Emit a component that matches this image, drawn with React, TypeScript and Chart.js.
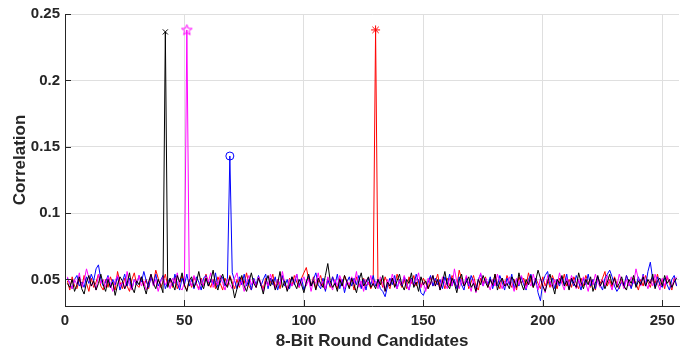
import React, { useEffect, useRef } from "react";
import { Chart, registerables } from "chart.js";

Chart.register(...registerables);

// Tick definitions
const xTickValues = [0, 50, 100, 150, 200, 250];
const yTickValues = [0.05, 0.1, 0.15, 0.2, 0.25];
const yTickLabels = ["0.05", "0.1", "0.15", "0.2", "0.25"];

// Correlation values for candidates 1..256
const blackSeries = [
  0.047, 0.044, 0.050, 0.041, 0.046, 0.052, 0.043, 0.039, 0.048, 0.053, 0.045, 0.049, 0.042, 0.047, 0.054, 0.046,
  0.041, 0.050, 0.044, 0.048, 0.038, 0.046, 0.052, 0.049, 0.043, 0.047, 0.055, 0.044, 0.040, 0.049, 0.046, 0.052,
  0.045, 0.039, 0.048, 0.054, 0.047, 0.043, 0.050, 0.046, 0.040, 0.2365, 0.044, 0.051, 0.047, 0.042, 0.053, 0.048,
  0.055, 0.046, 0.041, 0.049, 0.052, 0.044, 0.048, 0.056, 0.047, 0.043, 0.051, 0.045, 0.049, 0.057, 0.046, 0.042,
  0.050, 0.054, 0.047, 0.044, 0.052, 0.046, 0.036, 0.043, 0.049, 0.053, 0.045, 0.041, 0.048, 0.055, 0.047, 0.044,
  0.051, 0.046, 0.039, 0.048, 0.053, 0.045, 0.050, 0.042, 0.047, 0.056, 0.044, 0.049, 0.041, 0.046, 0.052, 0.047,
  0.043, 0.050, 0.046, 0.040, 0.048, 0.054, 0.045, 0.049, 0.042, 0.051, 0.047, 0.044, 0.053, 0.062, 0.049, 0.044,
  0.047, 0.041, 0.050, 0.045, 0.053, 0.048, 0.043, 0.051, 0.046, 0.040, 0.049, 0.055, 0.045, 0.048, 0.052, 0.044,
  0.047, 0.043, 0.050, 0.046, 0.053, 0.041, 0.048, 0.045, 0.051, 0.044, 0.049, 0.054, 0.046, 0.042, 0.050, 0.047,
  0.055, 0.044, 0.048, 0.041, 0.052, 0.046, 0.049, 0.043, 0.047, 0.053, 0.045, 0.050, 0.042, 0.048, 0.056, 0.046,
  0.043, 0.051, 0.047, 0.040, 0.049, 0.054, 0.045, 0.048, 0.052, 0.044, 0.047, 0.041, 0.050, 0.046, 0.053, 0.048,
  0.044, 0.050, 0.046, 0.054, 0.042, 0.048, 0.051, 0.045, 0.047, 0.043, 0.052, 0.049, 0.044, 0.055, 0.047, 0.042,
  0.050, 0.046, 0.053, 0.044, 0.049, 0.057, 0.051, 0.045, 0.041, 0.048, 0.054, 0.046, 0.039, 0.050, 0.047, 0.053,
  0.045, 0.049, 0.042, 0.051, 0.047, 0.044, 0.055, 0.048, 0.043, 0.050, 0.046, 0.052, 0.041, 0.047, 0.053, 0.045,
  0.049, 0.043, 0.048, 0.054, 0.046, 0.051, 0.044, 0.047, 0.052, 0.045, 0.042, 0.050, 0.047, 0.053, 0.044, 0.049,
  0.046, 0.052, 0.045, 0.050, 0.047, 0.054, 0.043, 0.049, 0.051, 0.045, 0.053, 0.047, 0.050, 0.044, 0.048, 0.051,
];

const magentaSeries = [
  0.052, 0.047, 0.043, 0.050, 0.046, 0.055, 0.044, 0.049, 0.058, 0.051, 0.045, 0.048, 0.042, 0.054, 0.047, 0.050,
  0.044, 0.052, 0.047, 0.041, 0.049, 0.053, 0.045, 0.048, 0.043, 0.056, 0.046, 0.042, 0.050, 0.047, 0.053, 0.045,
  0.049, 0.042, 0.047, 0.054, 0.045, 0.050, 0.041, 0.048, 0.052, 0.046, 0.049, 0.043, 0.051, 0.047, 0.055, 0.044,
  0.042, 0.048, 0.238, 0.051, 0.045, 0.053, 0.047, 0.042, 0.050, 0.045, 0.052, 0.048, 0.055, 0.044, 0.049, 0.046,
  0.053, 0.047, 0.042, 0.050, 0.046, 0.043, 0.051, 0.055, 0.045, 0.049, 0.041, 0.048, 0.053, 0.046, 0.050, 0.044,
  0.052, 0.047, 0.041, 0.049, 0.045, 0.054, 0.048, 0.043, 0.050, 0.046, 0.056, 0.047, 0.042, 0.050, 0.045, 0.049,
  0.054, 0.044, 0.048, 0.052, 0.045, 0.050, 0.041, 0.049, 0.047, 0.055, 0.045, 0.049, 0.043, 0.052, 0.047, 0.042,
  0.050, 0.045, 0.053, 0.048, 0.043, 0.049, 0.046, 0.052, 0.047, 0.056, 0.044, 0.049, 0.041, 0.050, 0.046, 0.053,
  0.045, 0.049, 0.043, 0.052, 0.047, 0.041, 0.050, 0.045, 0.054, 0.048, 0.043, 0.049, 0.046, 0.053, 0.047, 0.042,
  0.050, 0.045, 0.049, 0.055, 0.044, 0.048, 0.041, 0.051, 0.046, 0.053, 0.045, 0.049, 0.042, 0.052, 0.047, 0.043,
  0.051, 0.045, 0.058, 0.048, 0.043, 0.050, 0.045, 0.053, 0.047, 0.041, 0.050, 0.040, 0.049, 0.055, 0.045, 0.051,
  0.047, 0.042, 0.050, 0.045, 0.054, 0.048, 0.043, 0.049, 0.045, 0.052, 0.047, 0.041, 0.051, 0.046, 0.053, 0.048,
  0.043, 0.049, 0.045, 0.054, 0.047, 0.042, 0.051, 0.046, 0.040, 0.053, 0.048, 0.044, 0.050, 0.046, 0.055, 0.047,
  0.042, 0.051, 0.045, 0.053, 0.048, 0.043, 0.050, 0.045, 0.052, 0.047, 0.041, 0.050, 0.046, 0.054, 0.048, 0.044,
  0.050, 0.045, 0.053, 0.047, 0.042, 0.051, 0.045, 0.054, 0.048, 0.043, 0.050, 0.045, 0.052, 0.047, 0.058, 0.050,
  0.045, 0.053, 0.048, 0.043, 0.050, 0.045, 0.054, 0.047, 0.042, 0.051, 0.045, 0.053, 0.048, 0.044, 0.050, 0.052,
];

const blueSeries = [
  0.051, 0.047, 0.043, 0.050, 0.053, 0.045, 0.048, 0.044, 0.052, 0.047, 0.054, 0.049, 0.058, 0.061, 0.050, 0.045,
  0.048, 0.053, 0.044, 0.050, 0.046, 0.052, 0.042, 0.048, 0.054, 0.045, 0.051, 0.043, 0.050, 0.046, 0.053, 0.048,
  0.056, 0.049, 0.044, 0.052, 0.046, 0.054, 0.045, 0.049, 0.053, 0.043, 0.048, 0.051, 0.045, 0.054, 0.047, 0.042,
  0.051, 0.046, 0.054, 0.045, 0.050, 0.043, 0.052, 0.048, 0.042, 0.051, 0.053, 0.045, 0.050, 0.046, 0.055, 0.044,
  0.048, 0.052, 0.045, 0.051, 0.143, 0.055, 0.049, 0.043, 0.052, 0.046, 0.054, 0.045, 0.050, 0.042, 0.051, 0.046,
  0.053, 0.045, 0.050, 0.054, 0.043, 0.051, 0.046, 0.052, 0.042, 0.048, 0.053, 0.045, 0.050, 0.043, 0.052, 0.046,
  0.054, 0.045, 0.051, 0.042, 0.048, 0.053, 0.045, 0.050, 0.055, 0.046, 0.043, 0.051, 0.041, 0.050, 0.045, 0.052,
  0.046, 0.054, 0.043, 0.050, 0.040, 0.048, 0.052, 0.045, 0.051, 0.046, 0.053, 0.043, 0.050, 0.042, 0.051, 0.046,
  0.053, 0.045, 0.050, 0.043, 0.041, 0.037, 0.045, 0.051, 0.046, 0.053, 0.043, 0.050, 0.045, 0.052, 0.046, 0.042,
  0.051, 0.045, 0.054, 0.048, 0.040, 0.038, 0.043, 0.048, 0.053, 0.045, 0.051, 0.046, 0.050, 0.043, 0.052, 0.046,
  0.054, 0.045, 0.050, 0.043, 0.052, 0.046, 0.042, 0.051, 0.045, 0.053, 0.048, 0.043, 0.050, 0.054, 0.045, 0.051,
  0.046, 0.052, 0.043, 0.050, 0.045, 0.053, 0.048, 0.042, 0.051, 0.046, 0.054, 0.043, 0.050, 0.045, 0.052, 0.046,
  0.042, 0.050, 0.054, 0.045, 0.051, 0.040, 0.034, 0.048, 0.053, 0.056, 0.046, 0.051, 0.043, 0.050, 0.045, 0.052,
  0.046, 0.054, 0.043, 0.050, 0.045, 0.053, 0.048, 0.042, 0.051, 0.046, 0.054, 0.045, 0.050, 0.043, 0.052, 0.046,
  0.042, 0.051, 0.054, 0.057, 0.052, 0.045, 0.041, 0.044, 0.048, 0.045, 0.053, 0.048, 0.043, 0.050, 0.045, 0.052,
  0.046, 0.054, 0.045, 0.056, 0.063, 0.050, 0.044, 0.052, 0.046, 0.044, 0.051, 0.046, 0.042, 0.050, 0.053, 0.045,
];

const redSeries = [
  0.049, 0.042, 0.052, 0.045, 0.043, 0.050, 0.044, 0.053, 0.047, 0.041, 0.051, 0.044, 0.048, 0.054, 0.045, 0.042,
  0.050, 0.044, 0.052, 0.047, 0.042, 0.056, 0.048, 0.043, 0.051, 0.045, 0.041, 0.050, 0.055, 0.046, 0.044, 0.052,
  0.045, 0.050, 0.043, 0.053, 0.047, 0.057, 0.051, 0.044, 0.048, 0.054, 0.045, 0.050, 0.044, 0.052, 0.043, 0.047,
  0.053, 0.045, 0.042, 0.050, 0.044, 0.052, 0.047, 0.043, 0.051, 0.045, 0.054, 0.048, 0.044, 0.050, 0.043, 0.052,
  0.047, 0.042, 0.051, 0.045, 0.053, 0.048, 0.043, 0.050, 0.044, 0.052, 0.047, 0.055, 0.045, 0.042, 0.050, 0.044,
  0.052, 0.047, 0.043, 0.051, 0.045, 0.048, 0.054, 0.044, 0.050, 0.043, 0.052, 0.047, 0.042, 0.051, 0.045, 0.053,
  0.048, 0.044, 0.051, 0.055, 0.059, 0.050, 0.045, 0.052, 0.043, 0.048, 0.053, 0.045, 0.042, 0.050, 0.044, 0.052,
  0.047, 0.043, 0.051, 0.045, 0.053, 0.048, 0.044, 0.050, 0.042, 0.052, 0.047, 0.044, 0.051, 0.045, 0.048, 0.043,
  0.047, 0.238, 0.045, 0.050, 0.044, 0.052, 0.047, 0.043, 0.051, 0.045, 0.054, 0.048, 0.044, 0.050, 0.043, 0.052,
  0.047, 0.053, 0.045, 0.050, 0.044, 0.051, 0.047, 0.043, 0.052, 0.045, 0.048, 0.054, 0.044, 0.050, 0.043, 0.051,
  0.045, 0.053, 0.048, 0.044, 0.057, 0.050, 0.045, 0.052, 0.043, 0.048, 0.053, 0.045, 0.042, 0.051, 0.047, 0.052,
  0.044, 0.050, 0.045, 0.054, 0.047, 0.043, 0.051, 0.045, 0.053, 0.048, 0.044, 0.050, 0.042, 0.052, 0.047, 0.051,
  0.045, 0.055, 0.048, 0.044, 0.051, 0.047, 0.043, 0.052, 0.045, 0.050, 0.044, 0.053, 0.048, 0.043, 0.051, 0.047,
  0.054, 0.045, 0.050, 0.044, 0.052, 0.047, 0.043, 0.051, 0.045, 0.053, 0.048, 0.044, 0.050, 0.042, 0.052, 0.047,
  0.051, 0.056, 0.045, 0.050, 0.044, 0.052, 0.047, 0.043, 0.050, 0.045, 0.053, 0.048, 0.044, 0.051, 0.047, 0.042,
  0.050, 0.045, 0.053, 0.048, 0.044, 0.051, 0.047, 0.054, 0.045, 0.050, 0.043, 0.052, 0.047, 0.042, 0.051, 0.045,
];

// Peak candidate (1-based) for each series
const blackPeak = 42;
const magentaPeak = 51;
const bluePeak = 69;
const redPeak = 130;

const FONT = "'Liberation Sans', Arial, Helvetica, sans-serif";
const AXIS_COLOR = "#262626";
const GRID_COLOR = "#dfdfdf";

function toPoints(values: number[]) {
  return values.map((v, i) => ({ x: i + 1, y: v }));
}

function makePentagram(color: string) {
  const c = document.createElement("canvas");
  c.width = 13;
  c.height = 13;
  const g = c.getContext("2d")!;
  g.strokeStyle = color;
  g.lineWidth = 1;
  g.beginPath();
  const cx = 6.5, cy = 6.8, ro = 5.6, ri = 2.3;
  for (let k = 0; k < 10; k++) {
    const r = k % 2 === 0 ? ro : ri;
    const a = -Math.PI / 2 + (k * Math.PI) / 5;
    const px = cx + r * Math.cos(a);
    const py = cy + r * Math.sin(a);
    if (k === 0) g.moveTo(px, py);
    else g.lineTo(px, py);
  }
  g.closePath();
  g.stroke();
  return c;
}

const inwardTicks = {
  id: "inwardTicks",
  afterDatasetsDraw(chart: any) {
    const { ctx, chartArea, scales } = chart;
    ctx.save();
    ctx.strokeStyle = AXIS_COLOR;
    ctx.lineWidth = 1;
    ctx.beginPath();
    for (const v of xTickValues) {
      const x = Math.round(scales.x.getPixelForValue(v)) + 0.5;
      ctx.moveTo(x, chartArea.bottom);
      ctx.lineTo(x, chartArea.bottom - 6);
    }
    for (const v of yTickValues) {
      const y = Math.round(scales.y.getPixelForValue(v)) + 0.5;
      ctx.moveTo(chartArea.left, y);
      ctx.lineTo(chartArea.left + 6, y);
    }
    ctx.stroke();
    ctx.restore();
  },
};

export default function App() {
  const canvasRef = useRef<HTMLCanvasElement | null>(null);

  useEffect(() => {
    document.body.style.margin = "0";
    const canvas = canvasRef.current;
    if (!canvas) return;
    const star5 = makePentagram("#ff00ff");

    const peakOnly = (peak: number, r: number) => (ctx: any) =>
      ctx.dataIndex === peak - 1 ? r : 0;

    const chart = new Chart(canvas, {
      type: "line",
      data: {
        datasets: [
          {
            data: toPoints(blackSeries),
            borderColor: "#000000",
            borderWidth: 1,
            pointStyle: "crossRot",
            pointRadius: peakOnly(blackPeak, 3.6),
            pointBorderColor: "#000000",
            pointBorderWidth: 1,
            pointBackgroundColor: "rgba(0,0,0,0)",
          },
          {
            data: toPoints(magentaSeries),
            borderColor: "#ff00ff",
            borderWidth: 1,
            pointStyle: (ctx: any) => (ctx.dataIndex === magentaPeak - 1 ? star5 : "circle"),
            pointRadius: peakOnly(magentaPeak, 5),
            pointBorderColor: "#ff00ff",
            pointBorderWidth: 1,
            pointBackgroundColor: "rgba(0,0,0,0)",
          },
          {
            data: toPoints(blueSeries),
            borderColor: "#0000ff",
            borderWidth: 1,
            pointStyle: "circle",
            pointRadius: peakOnly(bluePeak, 4),
            pointBorderColor: "#0000ff",
            pointBorderWidth: 1,
            pointBackgroundColor: "rgba(0,0,0,0)",
          },
          {
            data: toPoints(redSeries),
            borderColor: "#ff0000",
            borderWidth: 1,
            pointStyle: "star",
            pointRadius: peakOnly(redPeak, 4.5),
            pointBorderColor: "#ff0000",
            pointBorderWidth: 1,
            pointBackgroundColor: "rgba(0,0,0,0)",
          },
        ],
      },
      options: {
        animation: false,
        responsive: false,
        events: [],
        layout: { padding: { top: 12, right: 12, left: 0, bottom: 0 } },
        elements: { line: { tension: 0 } },
        plugins: { legend: { display: false }, tooltip: { enabled: false } },
        scales: {
          x: {
            type: "linear",
            min: 0,
            max: 257,
            afterBuildTicks: (scale: any) => {
              scale.ticks = xTickValues.map((v) => ({ value: v }));
            },
            afterFit: (scale: any) => {
              scale.height = 48;
            },
            grid: { color: GRID_COLOR, drawTicks: false, lineWidth: 1 },
            border: { display: true, color: AXIS_COLOR, width: 1 },
            ticks: {
              color: AXIS_COLOR,
              padding: 6,
              maxRotation: 0,
              autoSkip: false,
              font: { family: FONT, size: 15, weight: "bold" },
              callback: (v: any) => String(v),
            },
            title: {
              display: true,
              text: "8-Bit Round Candidates",
              color: AXIS_COLOR,
              padding: { top: 0, bottom: 2 },
              font: { family: FONT, size: 17, weight: "bold" },
            },
          },
          y: {
            type: "linear",
            min: 0.03,
            max: 0.25,
            afterBuildTicks: (scale: any) => {
              scale.ticks = yTickValues.map((v) => ({ value: v }));
            },
            afterFit: (scale: any) => {
              scale.width = 65;
            },
            grid: { color: GRID_COLOR, drawTicks: false, lineWidth: 1 },
            border: { display: true, color: AXIS_COLOR, width: 1 },
            ticks: {
              color: AXIS_COLOR,
              padding: 5,
              autoSkip: false,
              font: { family: FONT, size: 15, weight: "bold" },
              callback: (v: any) => {
                const i = yTickValues.findIndex((t) => Math.abs(t - v) < 1e-9);
                return i >= 0 ? yTickLabels[i] : "";
              },
            },
            title: {
              display: true,
              text: "Correlation",
              color: AXIS_COLOR,
              padding: { top: 10, bottom: 0 },
              font: { family: FONT, size: 17, weight: "bold" },
            },
          },
        },
      },
      plugins: [inwardTicks],
    } as any);

    return () => chart.destroy();
  }, []);

  return (
    <div style={{ position: "fixed", left: 0, top: 0, width: 691, height: 354, background: "#ffffff" }}>
      <canvas ref={canvasRef} width={691} height={354} style={{ width: 691, height: 354 }} />
    </div>
  );
}
